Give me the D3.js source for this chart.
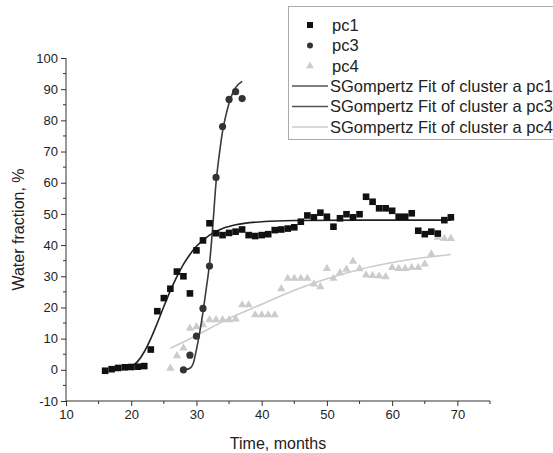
<!DOCTYPE html>
<html>
<head>
<meta charset="utf-8">
<script src="https://cdn.jsdelivr.net/npm/d3@7"></script>
<style>
  body { margin: 0; background: #fff; }
  svg { font-family: "Liberation Sans", Arial, sans-serif; }
  .tick-label { font-size: 13px; fill: #222; }
  .axis-title { font-size: 16px; fill: #222; }
  .legend-text { font-size: 16.5px; fill: #222; }
</style>
</head>
<body>
<div id="chart"></div>
<script>
// data
const pc1Months = [16,17,18,19,20,21,22,23,24,25,26,27,28,29,30,31,32,33,34,35,36,37,38,39,40,41,42,43,44,45,46,47,48,49,50,51,52,53,54,55,56,57,58,59,60,61,62,63,64,65,66,67,68,69]
const pc1Values = [-0.3,0.2,0.6,0.8,0.9,1,1.2,6.5,18.8,23,26,31.5,30,24.5,38.3,41.5,47,43.8,43.2,43.9,44.3,45,43.2,42.9,43.2,43.5,44.8,45,45.3,45.7,47.5,49.5,48.9,50.4,49.1,45.9,48.6,49.9,48.9,49.9,55.5,53.9,51.8,51.8,51,49.1,49.1,50.2,44.6,43.5,44.3,43.7,48,48.9]

const pc3Months = [28,29,30,31,32,33,34,35,36,37]
const pc3Values = [0,4.7,10.8,19.7,33.3,61.7,78,86.7,89.2,87]

const pc4Months = [26,27,28,29,30,31,32,33,34,35,36,37,38,39,40,41,42,43,44,45,46,47,48,49,50,51,52,53,54,55,56,57,58,59,60,61,62,63,64,65,66,67,68,69]
const pc4Values = [0.5,4.5,7,13.3,13.8,14.4,16,16,16,16,16.3,20.8,20.8,17.6,17.6,17.6,17.6,26,29.3,29.3,29.3,29.3,27.5,26.6,32.5,29.3,31.1,32.2,34.8,32.4,30.4,30.2,30.1,29.8,32.8,32.5,32.5,32.8,32.8,33.9,37.1,42.5,42.1,42.1]

// fitted curves
const fit1Months = [20,21,22,23,24,25,26,27,28,29,30,32,34,36,40,45,55,69]
const fit1Values = [1,2.7,5.8,10,15,20.3,25.4,29.9,33.8,37,39.6,43.2,45.3,46.5,47.5,47.9,48,48]

const fit3Months = [28.2,29,29.5,30,30.5,31,31.5,32,32.5,33,33.5,34,34.5,35,35.5,36,37]
const fit3Values = [0,0.5,2,6.5,12,18.5,26,34,46,60,69,76.5,81.5,85.5,88.5,90.5,92.5]

const fit4Months = [26,30,35,40,45,50,55,60,65,69]
const fit4Values = [6.9,11,16.5,21,25.5,29.2,32.2,34.4,36,37]

const xTicks = [10,20,30,40,50,60,70]
const yTicks = [-10,0,10,20,30,40,50,60,70,80,90,100]

const legendLabels = ["pc1", "pc3", "pc4",
  "SGompertz Fit of cluster a pc1",
  "SGompertz Fit of cluster a pc3",
  "SGompertz Fit of cluster a pc4"]

const width = 553
const height = 453

const svg = d3.select("#chart")
  .append("svg")
    .attr("width", width)
    .attr("height", height)

const xScale = d3.scaleLinear()
    .domain([10, 75])
    .range([66, 490])

const yScale = d3.scaleLinear()
    .domain([-10, 100])
    .range([401, 58])

const toPoints = (xs, ys) => xs.map((x, i) => [x, ys[i]])
const plainNumber = d => String(d)   // keeps the ascii hyphen on "-10"

// axes
const xAxis = d3.axisBottom(xScale)
    .tickValues(xTicks)
    .tickSize(5)
    .tickPadding(4)
    .tickFormat(plainNumber)

const yAxis = d3.axisLeft(yScale)
    .tickValues(yTicks)
    .tickSize(5)
    .tickPadding(3)
    .tickFormat(plainNumber)

const xAxisGroup = svg.append("g")
    .attr("transform", `translate(0,${yScale(-10)})`)
    .call(xAxis)

xAxisGroup.selectAll(".tick line").attr("stroke", "#333")
xAxisGroup.select(".domain")
    .attr("stroke", "#333")
    .attr("d", `M${xScale(10)},0H${xScale(75)}`)
xAxisGroup.selectAll(".tick text")
    .attr("class", "tick-label")

// minor x ticks
xAxisGroup.selectAll(".minor")
  .data(d3.range(15, 80, 10))
  .enter().append("line")
    .attr("class", "minor")
    .attr("x1", d => xScale(d))
    .attr("x2", d => xScale(d))
    .attr("y1", 0)
    .attr("y2", 3)
    .attr("stroke", "#333")

const yAxisGroup = svg.append("g")
    .attr("transform", `translate(${xScale(10)},0)`)
    .call(yAxis)

yAxisGroup.selectAll(".tick line").attr("stroke", "#333")
yAxisGroup.select(".domain")
    .attr("stroke", "#333")
    .attr("d", `M0,${yScale(-10)}V${yScale(100)}`)
yAxisGroup.selectAll(".tick text")
    .attr("class", "tick-label")

yAxisGroup.selectAll(".minor")
  .data(d3.range(-5, 100, 10))
  .enter().append("line")
    .attr("class", "minor")
    .attr("x1", 0)
    .attr("x2", -3)
    .attr("y1", d => yScale(d))
    .attr("y2", d => yScale(d))
    .attr("stroke", "#333")

svg.selectAll("g[font-size]")
    .attr("font-size", null)
    .attr("font-family", null)

svg.append("text")
    .attr("class", "axis-title")
    .attr("x", (xScale(10) + xScale(75)) / 2)
    .attr("y", 449)
    .attr("text-anchor", "middle")
    .text("Time, months")

svg.append("text")
    .attr("class", "axis-title")
    .attr("transform", `translate(24,${(yScale(-10) + yScale(100)) / 2}) rotate(-90)`)
    .attr("text-anchor", "middle")
    .text("Water fraction, %")

// fit lines
const line = d3.line()
    .x(d => xScale(d[0]))
    .y(d => yScale(d[1]))
    .curve(d3.curveMonotoneX)

const fits = [
  {points: toPoints(fit4Months, fit4Values), color: "#cccccc"},
  {points: toPoints(fit1Months, fit1Values), color: "#222222"},
  {points: toPoints(fit3Months, fit3Values), color: "#3a3a3a"},
]

// markers
const triangle = d3.symbol().type(d3.symbolTriangle).size(30)

svg.append("g")
  .selectAll("path")
  .data(toPoints(pc4Months, pc4Values))
  .enter().append("path")
    .attr("d", triangle)
    .attr("transform", d => `translate(${xScale(d[0])},${yScale(d[1])})`)
    .attr("fill", "#cccccc")

svg.append("g")
  .selectAll("path")
  .data(fits)
  .enter().append("path")
    .attr("d", d => line(d.points))
    .attr("fill", "none")
    .attr("stroke", d => d.color)
    .attr("stroke-width", 1.6)

svg.append("g")
  .selectAll("rect")
  .data(toPoints(pc1Months, pc1Values))
  .enter().append("rect")
    .attr("x", d => xScale(d[0]) - 3.3)
    .attr("y", d => yScale(d[1]) - 3.3)
    .attr("width", 6.6)
    .attr("height", 6.6)
    .attr("fill", "#111")

svg.append("g")
  .selectAll("circle")
  .data(toPoints(pc3Months, pc3Values))
  .enter().append("circle")
    .attr("cx", d => xScale(d[0]))
    .attr("cy", d => yScale(d[1]))
    .attr("r", 3.6)
    .attr("fill", "#333")

// legend
const legend = svg.append("g")

legend.append("rect")
    .attr("x", 288.5)
    .attr("y", 6.5)
    .attr("width", 300)
    .attr("height", 133)
    .attr("fill", "#fff")
    .attr("stroke", "#aaa")

const legendY = [25, 45.5, 66, 86, 106.5, 127]

legend.append("rect")
    .attr("x", 307).attr("y", legendY[0] - 3)
    .attr("width", 6).attr("height", 6)
    .attr("fill", "#111")
legend.append("circle")
    .attr("cx", 310).attr("cy", legendY[1])
    .attr("r", 3).attr("fill", "#333")
legend.append("path")
    .attr("d", d3.symbol().type(d3.symbolTriangle).size(26))
    .attr("transform", `translate(310,${legendY[2]})`)
    .attr("fill", "#cccccc")

const legendLineColors = ["#555", "#555", "#cccccc"]
legendLineColors.forEach((c, i) => {
  legend.append("line")
      .attr("x1", 292).attr("x2", 328)
      .attr("y1", legendY[i + 3]).attr("y2", legendY[i + 3])
      .attr("stroke", c)
      .attr("stroke-width", 1.6)
})

legend.selectAll(".legend-text")
  .data(legendLabels)
  .enter().append("text")
    .attr("class", "legend-text")
    .attr("x", (d, i) => i < 3 ? 332 : 330)
    .attr("y", (d, i) => legendY[i] + 5.5)
    .text(d => d)
</script>
</body>
</html>
